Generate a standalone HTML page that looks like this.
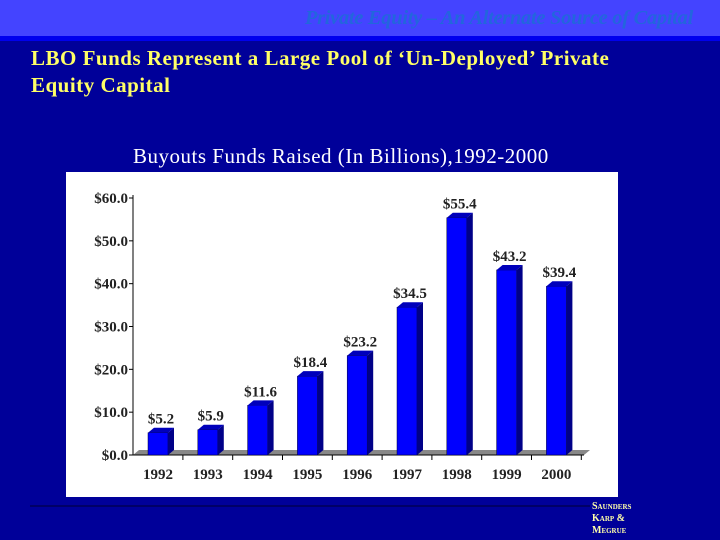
<!DOCTYPE html>
<html><head><meta charset="utf-8"><style>
body{margin:0;width:720px;height:540px;overflow:hidden;background:#000099;font-family:"Liberation Serif",serif;position:relative}
.abs{position:absolute}
</style></head><body>
<div class="abs" style="left:0;top:0;width:720px;height:36px;background:#4444ff"></div>
<div class="abs" style="left:0;top:36px;width:720px;height:5px;background:#0000ee"></div>
<div class="abs" style="right:27px;top:7px;font-size:20.5px;font-style:italic;font-weight:bold;color:#2266dd;white-space:nowrap;letter-spacing:-0.3px">Private Equity – An Alternate Source of Capital</div>
<div class="abs" style="left:31px;top:45px;font-size:21px;font-weight:bold;color:#ffff66;line-height:27px;width:689px;letter-spacing:0.5px;white-space:nowrap">LBO Funds Represent a Large Pool of ‘Un-Deployed’ Private<br>Equity Capital</div>
<div class="abs" style="left:133px;top:144px;font-size:21px;color:#fff;white-space:nowrap;letter-spacing:0.5px">Buyouts Funds Raised (In Billions),1992-2000</div>
<div class="abs" style="left:30px;top:505px;width:560px;height:2px;background:#000066"></div>
<div class="abs" style="left:592px;top:501px;font-size:10px;color:#ffffaa;line-height:12px;font-variant:small-caps;font-weight:bold">Saunders<br>Karp &amp;<br>Megrue</div>
<svg class="abs" style="left:0;top:0" width="720" height="540" id="chart"></svg>
<script>
const years=["1992","1993","1994","1995","1996","1997","1998","1999","2000"];
const values=[5.2,5.9,11.6,18.4,23.2,34.5,55.4,43.2,39.4];
const labels=["$5.2","$5.9","$11.6","$18.4","$23.2","$34.5","$55.4","$43.2","$39.4"];
const ticks=[0,10,20,30,40,50,60];
const tickLabels=["$0.0","$10.0","$20.0","$30.0","$40.0","$50.0","$60.0"];
const svg=document.getElementById('chart');const NS="http://www.w3.org/2000/svg";
function mk(t,a,p){const e=document.createElementNS(NS,t);for(const k in a)e.setAttribute(k,a[k]);(p||svg).appendChild(e);return e;}
const y=v=>455-v*257/60;const x=i=>158+i*49.8;
let panel=mk('rect',{x:66,y:172,width:552,height:325,fill:'#fff'});


let floor=mk('polygon',{points:`133,455 139,450 590,450 584,455`,fill:'#888'});


mk('line',{x1:133,y1:195,x2:133,y2:455,stroke:'#000'});
mk('line',{x1:133,y1:455,x2:584,y2:455,stroke:'#000'});
ticks.forEach((t,i)=>{mk('line',{x1:129,y1:y(t),x2:133,y2:y(t),stroke:'#000'});
const tx=mk('text',{x:128,y:y(t)+5,'text-anchor':'end','font-size':15,'font-weight':'bold','font-family':'Liberation Serif',fill:'#222'});tx.textContent=tickLabels[i];

});
years.forEach((yr,i)=>{const cx=x(i),w=20,l=cx-10,top=y(values[i]);
mk('line',{x1:cx+24.9,y1:455,x2:cx+24.9,y2:460,stroke:'#000'});
const g=mk('g',{});


mk('rect',{x:l,y:top,width:w,height:455-top,fill:'#0000ff',stroke:'#000033','stroke-width':0.5},g);
mk('polygon',{points:`${l+w},${top} ${l+w+6},${top-5} ${l+w+6},${450} ${l+w},455`,fill:'#000088'},g);
mk('polygon',{points:`${l},${top} ${l+6},${top-5} ${l+w+6},${top-5} ${l+w},${top}`,fill:'#0000bb'},g);
const vl=mk('text',{x:cx+3,y:top-9,'text-anchor':'middle','font-size':15,'font-weight':'bold','font-family':'Liberation Serif',fill:'#222'});vl.textContent=labels[i];


const xl=mk('text',{x:cx,y:479,'text-anchor':'middle','font-size':15,'font-weight':'bold','font-family':'Liberation Serif',fill:'#222'});xl.textContent=yr;

});
</script>
</body></html>
